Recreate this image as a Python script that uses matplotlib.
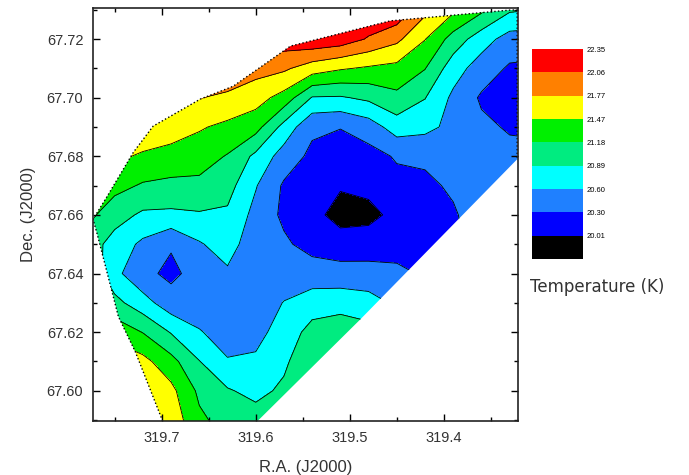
import numpy as np
import matplotlib
matplotlib.use('Agg')
import matplotlib.pyplot as plt
from matplotlib.patches import Polygon
from matplotlib.ticker import MultipleLocator

plt.rcParams['font.family'] = ['Liberation Sans', 'DejaVu Sans']

# grid of the temperature map (R.A. columns, Dec. rows from top to bottom)
ra = [319.78, 319.75, 319.72, 319.69, 319.66, 319.63, 319.60, 319.57, 319.54,
      319.51, 319.48, 319.45, 319.42, 319.39, 319.36, 319.33, 319.30]
dec = [67.74, 67.73, 67.72, 67.71, 67.70, 67.69, 67.68, 67.67, 67.66,
       67.65, 67.64, 67.63, 67.62, 67.61, 67.60, 67.59, 67.58]

temp = [
    [22.32, 22.32, 22.32, 22.32, 22.32, 22.32, 22.32, 22.32, 22.32, 22.32, 22.32, 22.32, 22.32, 22.06, 21.71, 21.41, 21.33],
    [22.32, 22.32, 22.32, 22.32, 22.32, 22.32, 22.32, 22.32, 22.32, 22.32, 22.32, 22.29, 21.85, 21.53, 21.24, 20.93, 20.89],
    [22.32, 22.32, 22.32, 22.32, 22.32, 22.32, 22.15, 22.23, 22.29, 22.23, 22.03, 21.84, 21.48, 21.06, 20.73, 20.48, 20.45],
    [22.32, 22.32, 22.32, 22.26, 22.07, 22.00, 21.88, 21.82, 21.62, 21.50, 21.43, 21.38, 21.19, 20.73, 20.46, 20.26, 20.24],
    [22.32, 22.12, 22.17, 21.85, 21.78, 21.71, 21.59, 21.36, 20.87, 20.86, 20.95, 21.11, 20.90, 20.54, 20.26, 20.16, 20.14],
    [21.91, 21.82, 21.78, 21.62, 21.50, 21.40, 21.29, 20.79, 20.36, 20.31, 20.45, 20.74, 20.68, 20.52, 20.36, 20.27, 20.26],
    [21.65, 21.56, 21.41, 21.36, 21.31, 21.16, 20.82, 20.47, 20.23, 20.17, 20.19, 20.33, 20.36, 20.45, 20.48, 20.38, 20.36],
    [21.48, 21.27, 21.15, 21.11, 21.11, 21.00, 20.62, 20.26, 20.14, 20.04, 20.10, 20.21, 20.23, 20.35, 20.49, 20.43, 20.42],
    [21.27, 21.01, 20.84, 20.83, 20.86, 20.84, 20.51, 20.24, 20.11, 19.89, 19.91, 20.11, 20.17, 20.26, 20.48, 20.45, 20.45],
    [21.06, 20.77, 20.54, 20.33, 20.57, 20.74, 20.40, 20.35, 20.19, 20.16, 20.19, 20.19, 20.19, 20.21, 20.45, 20.45, 20.45],
    [21.15, 20.68, 20.38, 20.23, 20.42, 20.55, 20.40, 20.46, 20.45, 20.40, 20.38, 20.36, 20.27, 20.24, 20.45, 20.45, 20.45],
    [21.27, 20.98, 20.72, 20.43, 20.45, 20.43, 20.45, 20.61, 20.74, 20.80, 20.74, 20.54, 20.42, 20.31, 20.45, 20.45, 20.45],
    [21.41, 21.36, 21.17, 20.87, 20.62, 20.48, 20.52, 20.71, 21.00, 21.03, 20.98, 20.68, 20.57, 20.39, 20.48, 20.45, 20.45],
    [21.71, 21.68, 21.56, 21.28, 20.90, 20.62, 20.64, 20.83, 21.15, 21.19, 21.12, 20.80, 20.68, 20.48, 20.51, 20.45, 20.45],
    [21.97, 21.85, 21.74, 21.55, 21.12, 20.92, 20.80, 20.95, 21.27, 21.30, 21.24, 20.90, 20.80, 20.57, 20.54, 20.45, 20.45],
    [22.20, 21.94, 21.76, 21.65, 21.24, 21.06, 21.03, 21.06, 21.36, 21.38, 21.33, 20.98, 20.90, 20.65, 20.57, 20.45, 20.45],
    [22.32, 22.05, 21.82, 21.78, 21.41, 21.21, 21.24, 21.19, 21.44, 21.46, 21.41, 21.06, 20.98, 20.74, 20.61, 20.45, 20.45],
]

# contour levels shown in the colour bar
levels = [20.01, 20.30, 20.60, 20.89, 21.18, 21.47, 21.77, 22.06, 22.35]
band_colors = ['#000000', '#0000ff', '#1f80ff', '#00ffff', '#00ec80',
               '#00f000', '#ffff00', '#ff8000', '#ff0000']

# outline of the observed area
edge_ra = [319.598, 319.699, 319.728, 319.746, 319.758, 319.769, 319.773, 319.758,
           319.730, 319.709, 319.659, 319.624, 319.563, 319.457, 319.329, 319.322,
           319.322, 319.489]
edge_dec = [67.5897, 67.5897, 67.6133, 67.6253, 67.6403, 67.6540, 67.6585, 67.6663,
            67.6814, 67.6903, 67.6995, 67.7039, 67.7176, 67.7262, 67.7299, 67.7299,
            67.6790, 67.6243]

text_col = '#333333'

fig = plt.figure(figsize=(6.89, 4.75), dpi=100)
ax = fig.add_axes([0.135, 0.1137, 0.617, 0.8695])

X, Y = np.meshgrid(ra, dec)
Z = np.array(temp)

fill_levels = [19.5] + levels
cf = ax.contourf(X, Y, Z, levels=fill_levels, colors=band_colors)
cl = ax.contour(X, Y, Z, levels=levels[:-1], colors='k', linewidths=0.6)

clip = Polygon(np.column_stack([edge_ra, edge_dec]), closed=True,
               transform=ax.transData, facecolor='none', edgecolor='none')
ax.add_patch(clip)
cf.set_clip_path(clip)
cl.set_clip_path(clip)

# dotted boundary (the diagonal edge has none)
ax.plot(edge_ra[1:17], edge_dec[1:17], color='k', linestyle=':', linewidth=1.0)

ax.set_xlim(319.773, 319.321)
ax.set_ylim(67.5897, 67.7306)

ax.xaxis.set_major_locator(MultipleLocator(0.1))
ax.xaxis.set_minor_locator(MultipleLocator(0.05))
ax.yaxis.set_major_locator(MultipleLocator(0.02))
ax.yaxis.set_minor_locator(MultipleLocator(0.01))
ax.xaxis.set_major_formatter(plt.FormatStrFormatter('%.1f'))
ax.yaxis.set_major_formatter(plt.FormatStrFormatter('%.2f'))
ax.tick_params(which='both', direction='in', top=True, right=True,
               labelsize=10.5, labelcolor=text_col, pad=7)
ax.tick_params(which='major', length=5, width=1)
ax.tick_params(which='minor', length=3, width=1)
for sp in ax.spines.values():
    sp.set_linewidth(1.2)
    sp.set_color('#222222')

ax.set_xlabel('R.A. (J2000)', fontsize=12, color=text_col, labelpad=11)
ax.set_ylabel('Dec. (J2000)', fontsize=12, color=text_col, labelpad=8)

# colour bar
cax = fig.add_axes([0.772, 0.4547, 0.074, 0.442])
cb = fig.colorbar(cf, cax=cax, ticks=levels)
cb.ax.set_yticklabels(['%.2f' % v for v in levels])
cb.ax.tick_params(length=0, labelsize=5.5, pad=3)
cb.outline.set_visible(False)

fig.text(0.769, 0.396, 'Temperature (K)', fontsize=12, color=text_col,
         family=['DejaVu Sans'], ha='left', va='center')

fig.savefig('out.png', dpi=100)
